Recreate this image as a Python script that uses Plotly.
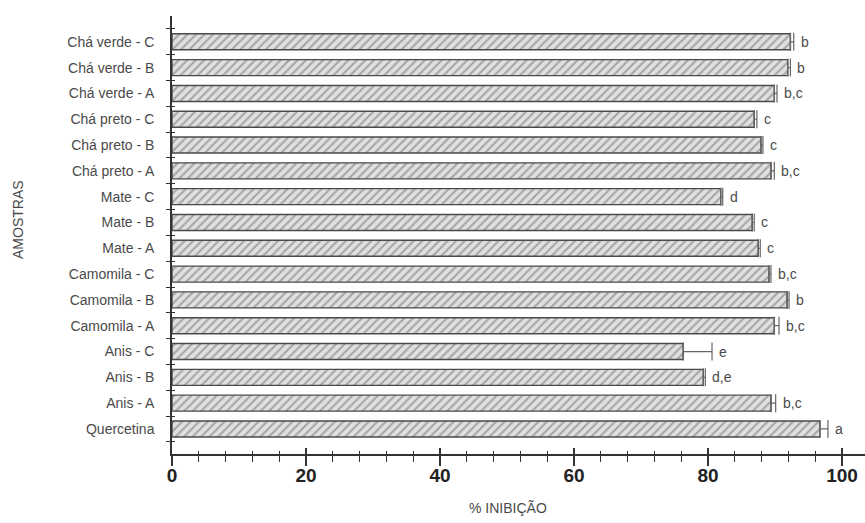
import plotly.graph_objects as go

# Data (bottom to top)
samples = ["Quercetina", "Anis - A", "Anis - B", "Anis - C",
           "Camomila - A", "Camomila - B", "Camomila - C",
           "Mate - A", "Mate - B", "Mate - C",
           "Chá preto - A", "Chá preto - B", "Chá preto - C",
           "Chá verde - A", "Chá verde - B", "Chá verde - C"]
inhibition = [96.7, 89.4, 79.3, 76.3,
              89.9, 91.8, 89.1,
              87.5, 86.6, 81.9,
              89.4, 87.9, 86.9,
              89.9, 91.9, 92.3]
error = [1.2, 0.7, 0.3, 4.3,
         0.7, 0.3, 0.3,
         0.3, 0.3, 0.3,
         0.5, 0.3, 0.4,
         0.4, 0.4, 0.5]
letters = ["a", "b,c", "d,e", "e",
           "b,c", "b", "b,c",
           "c", "c", "d",
           "b,c", "c", "c",
           "b,c", "b", "b"]
x_ticks = [0, 20, 40, 60, 80, 100]

AX = "#333333"
TXT = "#4a4a4a"
FONT = "Liberation Sans, Arial, sans-serif"

W, H = 865, 523
ML, MR, MT, MB = 172, 0, 16, 69
plot_w = W - ML - MR
plot_h = H - MT - MB
x_max = plot_w / 6.70  # axis line runs to the right edge

fig = go.Figure()
fig.add_trace(go.Bar(
    y=samples, x=inhibition, orientation="h", width=0.62,
    marker=dict(color="#dcdcdc",
                line=dict(color="#4a4a4a", width=1.4),
                pattern=dict(shape="/", fgcolor="#6a6a6a", bgcolor="#e0e0e0",
                             size=6, solidity=0.35)),
    error_x=dict(type="data", symmetric=False, array=error,
                 arrayminus=[0] * len(error), color="#666666",
                 thickness=1.2, width=9),
    showlegend=False, hoverinfo="skip",
))
# invisible trace to activate overlay axes (crossing ticks)
fig.add_trace(go.Scatter(y=samples, x=inhibition, xaxis="x2", yaxis="y2",
                         mode="markers", marker=dict(opacity=0),
                         showlegend=False, hoverinfo="skip"))

for s, v, e, t in zip(samples, inhibition, error, letters):
    fig.add_annotation(x=v + e, y=s, text=t, showarrow=False,
                       xanchor="left", xshift=5, yshift=0,
                       font=dict(family=FONT, size=14, color=TXT))

fig.add_annotation(text="% INIBIÇÃO", xref="paper", yref="paper",
                   x=(508 - ML) / plot_w, y=(H - MB - 508) / plot_h,
                   xanchor="center", yanchor="middle",
                   showarrow=False, font=dict(family=FONT, size=14, color=TXT))
fig.add_annotation(text="AMOSTRAS", textangle=-90, xref="paper", yref="paper",
                   x=(18 - ML) / plot_w, y=(H - MB - 220) / plot_h,
                   xanchor="center", yanchor="middle",
                   showarrow=False, font=dict(family=FONT, size=14, color=TXT))

fig.update_layout(
    width=W, height=H,
    margin=dict(l=ML, r=MR, t=MT, b=MB, autoexpand=False),
    paper_bgcolor="white", plot_bgcolor="white",
    xaxis=dict(range=[0, x_max], tickvals=x_ticks, ticktext=[str(v) for v in x_ticks],
               automargin=False,
               showgrid=False, zeroline=False,
               showline=True, linecolor=AX, linewidth=1.5,
               ticks="outside", ticklen=10, tickwidth=1.5, tickcolor=AX,
               minor=dict(dtick=4, tick0=0, ticks="outside", ticklen=6,
                          tickwidth=1.2, tickcolor=AX, showgrid=False),
               tickfont=dict(family="Liberation Sans Narrow, Liberation Sans, Arial", size=19,
                             color="#222222", weight="bold"),
               ticklabelstandoff=-7),
    xaxis2=dict(range=[0, x_max], overlaying="x", side="bottom", automargin=False,
                tickvals=x_ticks, showticklabels=False,
                showgrid=False, zeroline=False, showline=False,
                ticks="inside", ticklen=6, tickwidth=1.5, tickcolor=AX,
                minor=dict(dtick=4, tick0=0, ticks="inside", ticklen=3,
                           tickwidth=1.2, tickcolor=AX, showgrid=False)),
    yaxis=dict(type="category", categoryorder="array", categoryarray=samples,
               range=[-0.97, 16.0], automargin=False,
               showgrid=False, zeroline=False,
               showline=True, linecolor=AX, linewidth=1.5,
               ticks="outside", ticklen=4, tickwidth=1.3, tickcolor=AX,
               tickson="boundaries",
               tickfont=dict(family=FONT, size=14, color=TXT),
               ticklabelstandoff=13),
    yaxis2=dict(type="category", categoryorder="array", categoryarray=samples,
                range=[-0.97, 16.0], overlaying="y", side="left", automargin=False,
                showgrid=False, zeroline=False, showline=False,
                ticks="inside", ticklen=3, tickwidth=1.3, tickcolor=AX,
                tickson="boundaries", showticklabels=False),
)

fig.write_html("out.html", config={"displayModeBar": False},
               post_script="document.body.style.margin='0';document.body.style.overflow='hidden';")
